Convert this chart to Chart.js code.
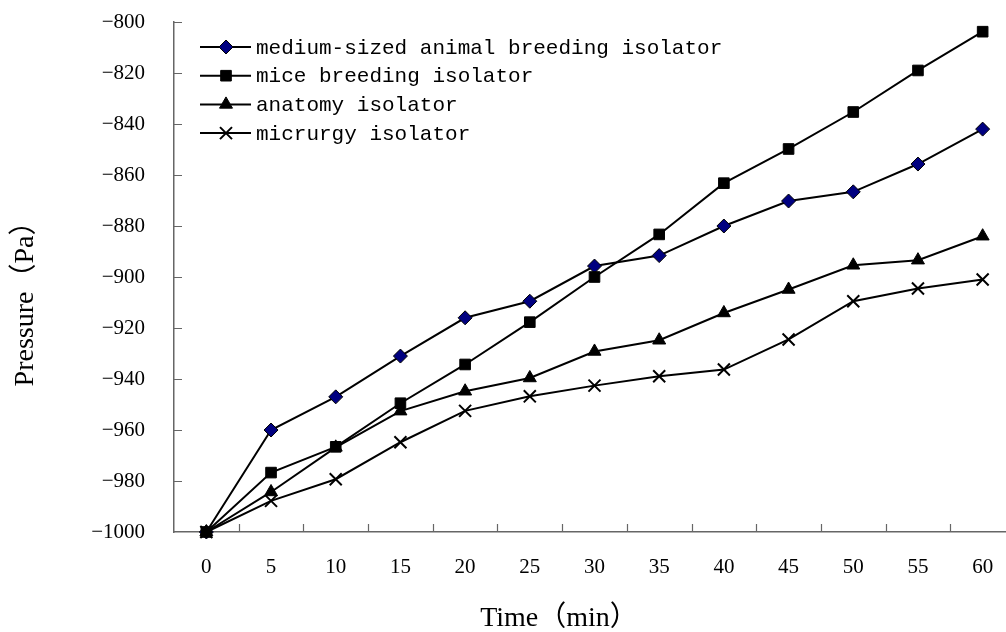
<!DOCTYPE html>
<html>
<head>
<meta charset="utf-8">
<script src="https://cdn.jsdelivr.net/npm/chart.js@4/dist/chart.umd.min.js"></script>
<style>
  html, body { margin: 0; padding: 0; background: #fff; overflow: hidden; }
  #wrap { width: 1030px; height: 632px; position: relative; }
</style>
</head>
<body>
<div id="wrap"><canvas id="myChart"></canvas></div>
<script>
// time points (min)
var timeLabels = ['0', '5', '10', '15', '20', '25', '30', '35', '40', '45', '50', '55', '60'];

var seriesNames = [
    'medium-sized animal breeding isolator',
    'mice breeding isolator',
    'anatomy isolator',
    'micrurgy isolator'
];

// pressure (Pa)
var mediumAnimal = [-1000, -960, -947, -931, -916, -909.5, -895.7, -891.6, -880, -870.2, -866.6, -855.7, -842];
var miceBreeding = [-1000, -976.7, -966.6, -949.5, -934.3, -917.7, -900, -883.3, -863.2, -849.8, -835.3, -819, -803.8];
var anatomy = [-1000, -984.3, -966.8, -952.6, -944.8, -939.6, -929.2, -924.8, -914.1, -904.9, -895.4, -893.4, -884];
var micrurgy = [-1000, -987.8, -979.3, -964.8, -952.5, -946.8, -942.6, -938.9, -936.3, -924.5, -909.5, -904.5, -901];

var yMin = -1000, yMax = -800, yStep = 20;

var xTitle = 'Time（min）';
var yTitle = 'Pressure（Pa）';

var serifFont = "'Liberation Serif', 'Noto Sans CJK SC', serif";

function makeSet(label, data, style, radius, fill, order) {
    return {
        label: label,
        data: data,
        order: order,
        borderColor: '#000',
        borderWidth: 2,
        backgroundColor: fill,
        pointStyle: style,
        pointRadius: radius,
        pointHoverRadius: radius,
        pointBackgroundColor: fill,
        pointBorderColor: '#000',
        pointBorderWidth: style === 'crossRot' ? 2 : 1,
        tension: 0,
        clip: false
    };
}

// inward tick marks, legend with line + marker, and axis titles
var decorPlugin = {
    id: 'decor',
    beforeDatasetsDraw: function (chart) {
        var ctx = chart.ctx;
        var area = chart.chartArea;
        var ys = chart.scales.y;
        ctx.save();
        ctx.strokeStyle = '#666';
        ctx.lineWidth = 1.2;
        ctx.beginPath();
        for (var v = yMin + yStep; v <= yMax; v += yStep) {
            var py = Math.round(ys.getPixelForValue(v)) + 0.5;
            ctx.moveTo(area.left, py);
            ctx.lineTo(area.left + 8, py);
        }
        var step = (area.right - area.left) / timeLabels.length;
        for (var i = 1; i <= timeLabels.length; i++) {
            var px = Math.round(area.left + i * step) + 0.5;
            ctx.moveTo(px, area.bottom);
            ctx.lineTo(px, area.bottom - 8);
        }
        ctx.stroke();
        ctx.restore();
    },
    afterDraw: function (chart) {
        var ctx = chart.ctx;
        ctx.save();

        // legend
        var rowY = 47, rowGap = 28.7;
        chart.data.datasets.forEach(function (ds, i) {
            var y = rowY + i * rowGap;
            ctx.strokeStyle = '#000';
            ctx.lineWidth = 2;
            ctx.beginPath();
            ctx.moveTo(200, y);
            ctx.lineTo(251, y);
            ctx.stroke();
            ctx.fillStyle = ds.pointBackgroundColor;
            ctx.strokeStyle = '#000';
            ctx.lineWidth = ds.pointBorderWidth;
            Chart.helpers.drawPoint(ctx, {
                pointStyle: ds.pointStyle,
                radius: ds.pointRadius,
                rotation: 0,
                borderWidth: ds.pointBorderWidth
            }, 226, y);
            ctx.fillStyle = '#000';
            ctx.font = "21px 'Liberation Mono', monospace";
            ctx.textAlign = 'left';
            ctx.textBaseline = 'middle';
            ctx.fillText(ds.label, 256, y + 1);
        });

        // axis titles
        ctx.fillStyle = '#000';
        ctx.font = '28px ' + serifFont;
        ctx.textAlign = 'center';
        ctx.textBaseline = 'alphabetic';
        ctx.fillText(xTitle, 559, 626);

        ctx.translate(33, 297);
        ctx.rotate(-Math.PI / 2);
        ctx.fillText(yTitle, 0, 0);
        ctx.restore();
    }
};

var ctx = document.getElementById('myChart').getContext('2d');
var myChart = new Chart(ctx, {
    type: 'line',
    data: {
        labels: timeLabels,
        datasets: [
            makeSet(seriesNames[0], mediumAnimal, 'rectRot', 7, '#000080', 3),
            makeSet(seriesNames[1], miceBreeding, 'rect', 7.5, '#000', 1),
            makeSet(seriesNames[2], anatomy, 'triangle', 7.5, '#000', 2),
            makeSet(seriesNames[3], micrurgy, 'crossRot', 8.5, '#000', 4)
        ]
    },
    options: {
        responsive: true,
        maintainAspectRatio: false,
        animation: false,
        layout: {
            padding: { top: 22, right: 15, left: 0, bottom: 0 }
        },
        scales: {
            x: {
                type: 'category',
                offset: true,
                grid: { display: false },
                border: { display: true, color: '#666', width: 1.5 },
                ticks: {
                    color: '#000',
                    padding: 15,
                    maxRotation: 0,
                    autoSkip: false,
                    font: { family: serifFont, size: 21 }
                },
                afterFit: function (scale) {
                    scale.height = 100;
                    scale.paddingLeft = 0;
                    scale.paddingRight = 0;
                }
            },
            y: {
                min: yMin,
                max: yMax,
                grid: { display: false },
                border: { display: true, color: '#666', width: 1.5 },
                ticks: {
                    stepSize: yStep,
                    color: '#000',
                    padding: 21,
                    font: { family: serifFont, size: 21 },
                    callback: function (value) {
                        return String(value).replace('-', '\u2212');
                    }
                },
                afterFit: function (scale) {
                    scale.width = 174;
                    scale.paddingTop = 0;
                    scale.paddingBottom = 0;
                }
            }
        },
        plugins: {
            legend: { display: false },
            tooltip: { enabled: false }
        }
    },
    plugins: [decorPlugin]
});
</script>
</body>
</html>
